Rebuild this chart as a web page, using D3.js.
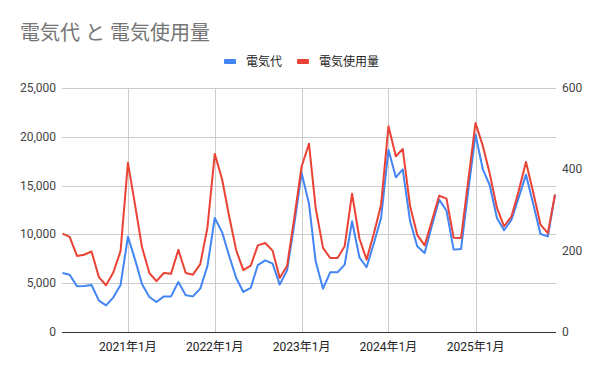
<!DOCTYPE html>
<html>
<head>
<meta charset="utf-8">
<script src="https://cdn.jsdelivr.net/npm/d3@7"></script>
<style>
  body { margin: 0; background: #fff; }
  svg { font-family: Roboto, Arial, "Noto Sans CJK JP", sans-serif; }
</style>
</head>
<body>
<svg id="chart" width="600" height="371"></svg>
<script>
// monthly data, 2020-04 .. 2025-12
const startMonth = new Date(2020, 3, 1);
const endMonth = new Date(2025, 11, 1);
const months = d3.timeMonth.range(startMonth, d3.timeMonth.offset(endMonth, 1));

const cost = [
  6050, 5870, 4680, 4710, 4820, 3210, 2730, 3550, 4820,
  9770, 7340, 4920, 3590, 3070, 3650, 3650, 5120, 3760, 3650, 4440, 6730,
  11680, 10210, 7920, 5530, 4100, 4510, 6860, 7340, 7000, 4850, 6320, 11000,
  16290, 13150, 7240, 4440, 6110, 6110, 6900, 11340, 7650, 6630, 9120, 11680,
  18680, 15850, 16670, 11340, 8780, 8090, 10830, 13560, 12430, 8440, 8500, 14410,
  20220, 16630, 15090, 11680, 10420, 11510, 13730, 16120, 13050, 10040, 9800, 14070
];
const usage = [
  242, 234, 187, 190, 198, 135, 115, 147, 199,
  416, 309, 209, 145, 125, 145, 143, 202, 145, 141, 167, 256,
  438, 375, 289, 201, 152, 163, 213, 219, 200, 133, 163, 280,
  407, 463, 305, 207, 182, 182, 211, 340, 230, 178, 243, 313,
  506, 432, 450, 309, 239, 213, 272, 335, 328, 232, 231, 371,
  514, 457, 391, 305, 260, 284, 346, 418, 342, 264, 243, 338
];

const title = "電気代 と 電気使用量";
const seriesNames = ["電気代", "電気使用量"];
const colors = ["#4285f4", "#ea4335"];
const leftTicks = [0, 5000, 10000, 15000, 20000, 25000];
const rightTicks = [0, 200, 400, 600];
const xTicks = [2021, 2022, 2023, 2024, 2025].map(y => new Date(y, 0, 1));

const svg = d3.select("#chart");
const margin = { top: 88, right: 44, bottom: 39, left: 62 };
const width = 600, height = 371;

const x = d3.scaleTime()
  .domain([startMonth, endMonth])
  .range([margin.left + 0.5, width - margin.right - 1]);
const yL = d3.scaleLinear().domain([0, 25000]).range([height - margin.bottom, margin.top]);
const yR = d3.scaleLinear().domain([0, 600]).range([height - margin.bottom, margin.top]);

// title
svg.append("text")
  .attr("x", 20).attr("y", 40)
  .attr("font-size", "20px")
  .attr("fill", "#757575")
  .text(title);

// legend
const legend = svg.append("g");
const legendX = [224, 297];
seriesNames.forEach((name, i) => {
  legend.append("rect")
    .attr("x", legendX[i]).attr("y", 59)
    .attr("width", 12).attr("height", 5)
    .attr("rx", 1)
    .attr("fill", colors[i]);
  legend.append("text")
    .attr("x", legendX[i] + 22).attr("y", 66)
    .attr("font-size", "12px")
    .attr("fill", "#222")
    .text(name);
});

// horizontal gridlines
svg.append("g")
  .selectAll("line")
  .data(leftTicks.slice(1))
  .enter().append("line")
  .attr("x1", margin.left).attr("x2", width - margin.right)
  .attr("y1", d => Math.round(yL(d)) + 0.5).attr("y2", d => Math.round(yL(d)) + 0.5)
  .attr("stroke", "#cccccc");

// vertical gridlines at January
svg.append("g")
  .selectAll("line")
  .data(xTicks)
  .enter().append("line")
  .attr("x1", d => Math.round(x(d)) + 0.5).attr("x2", d => Math.round(x(d)) + 0.5)
  .attr("y1", margin.top).attr("y2", height - margin.bottom)
  .attr("stroke", "#cccccc");

// baseline
svg.append("line")
  .attr("x1", margin.left).attr("x2", width - margin.right)
  .attr("y1", yL(0) + 0.5).attr("y2", yL(0) + 0.5)
  .attr("stroke", "#333")
  .attr("stroke-width", 1.2);

// left axis labels
const fmt = d3.format(",");
svg.append("g")
  .selectAll("text")
  .data(leftTicks)
  .enter().append("text")
  .attr("x", margin.left - 6)
  .attr("y", d => yL(d) + 4)
  .attr("text-anchor", "end")
  .attr("font-size", "12px")
  .attr("fill", "#444")
  .text(d => fmt(d));

// right axis labels
svg.append("g")
  .selectAll("text")
  .data(rightTicks)
  .enter().append("text")
  .attr("x", width - margin.right + 6)
  .attr("y", d => yR(d) + 4)
  .attr("text-anchor", "start")
  .attr("font-size", "12px")
  .attr("fill", "#444")
  .text(d => d);

// x labels
svg.append("g")
  .selectAll("text")
  .data(xTicks)
  .enter().append("text")
  .attr("x", d => x(d))
  .attr("y", height - margin.bottom + 19)
  .attr("text-anchor", "middle")
  .attr("font-size", "12px")
  .attr("fill", "#222")
  .text(d => `${d.getFullYear()}年1月`);

// lines
const lineL = d3.line().x((d, i) => x(months[i])).y(d => yL(d));
const lineR = d3.line().x((d, i) => x(months[i])).y(d => yR(d));

svg.append("path")
  .datum(cost)
  .attr("fill", "none")
  .attr("stroke", colors[0])
  .attr("stroke-width", 2)
  .attr("stroke-linejoin", "round")
  .attr("d", lineL);

svg.append("path")
  .datum(usage)
  .attr("fill", "none")
  .attr("stroke", colors[1])
  .attr("stroke-width", 2)
  .attr("stroke-linejoin", "round")
  .attr("d", lineR);
</script>
</body>
</html>
